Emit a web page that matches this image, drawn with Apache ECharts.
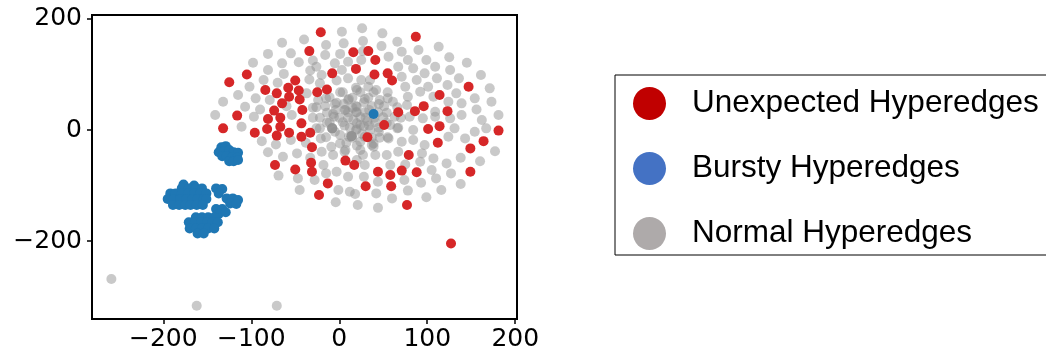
<!DOCTYPE html>
<html>
<head>
<meta charset="utf-8">
<script src="https://cdn.jsdelivr.net/npm/echarts@6/dist/echarts.min.js"></script>
<style>
  html, body { margin: 0; padding: 0; background: #fff; }
  #chart { width: 1046px; height: 354px; }
</style>
</head>
<body>
<div id="chart"></div>
<script>
// legend names
const seriesNames = ['Unexpected Hyperedges', 'Bursty Hyperedges', 'Normal Hyperedges']

// tick labels
const xTicks = [-200, -100, 0, 100, 200]
const yTicks = [-200, 0, 200]

// grey points
const normalPoints = [
  [3, 177], [-40, 163], [-65, 157], [-15, 153], [5, 156], [-81, 137], [-55, 138], [-30, 125], [-16, 135], [1, 137],
  [-98, 121], [-65, 120], [-46, 122], [-26, 114], [-5, 120], [10, 123], [-81, 108], [-63, 101], [-33, 107], [-20, 99],
  [3, 108], [-102, 78], [-86, 90], [-70, 85], [-34, 91], [-22, 84], [-3, 89], [10, 93], [-115, 63], [-95, 57],
  [-79, 54], [-37, 66], [-132, 51], [-107, 42], [-90, 37], [-60, 43], [-141, 27], [-97, 24], [-54, 27],
  [-24, 54], [-11, 59], [4, 68], [-30, 40], [-16, 43], [-3, 49], [10, 54], [-22, 22], [-7, 29], [7, 36], [19, 43],
  [-111, 6], [-88, -20], [-81, -40], [-72, -26], [-64, -48], [-69, -82], [-55, -18], [-48, -42], [-47, -87], [-45, -108],
  [-22, 3], [-21, -15], [-20, -39], [-18, -63], [-28, -90], [-6, 24], [-9, -30], [-7, -45], [-3, -75], [-1, -108],
  [-4, -130], [7, -36], [10, -84], [12, -111], [-33, -50], [-38, -23], [-15, -78],
  [18, -115], [21, -135], [28, -84], [42, -114], [44, -140], [44, -93], [60, -123], [74, -90], [78, -109], [93, -95],
  [99, -121], [110, -87], [116, -108], [127, -78], [138, -97], [105, -72],
  [63, 24], [80, 24], [95, 21], [109, 24], [126, 21], [139, 27], [162, 18], [181, 27], [67, 4], [84, 0],
  [131, 3], [154, -3], [24, -21], [39, -30], [56, -15], [71, -21], [84, -18], [97, -27], [124, -12], [143, -15],
  [177, -38], [27, -45], [41, -45], [54, -45], [67, -39], [94, -42], [107, -51], [122, -60], [138, -50], [160, -56],
  [29, -63], [58, -63], [75, -62], [92, -57], [167, 3],
  [26, 183], [49, 174], [66, 159], [48, 151], [25, 126], [56, 132], [71, 141], [78, 126], [90, 144], [99, 126],
  [113, 150], [125, 131], [145, 121], [161, 99], [109, 114], [126, 108], [136, 93], [171, 75], [67, 114], [84, 111],
  [97, 102], [111, 93], [123, 81], [71, 96], [88, 90], [101, 78], [133, 66], [154, 57], [75, 78], [92, 69],
  [107, 60], [124, 51], [139, 48], [156, 37], [173, 51], [78, 60], [33, 78], [25, 90], [46, 54], [61, 51],
  [77, 45], [109, 33], [27, 160], [27, 142],
  [24, 23], [19, 32], [29, 32], [16, 18], [32, 16], [24, 9], [12, 4], [35, 0], [26, -7], [15, -14],
  [41, 14], [37, 43], [28, 50], [15, 58], [51, 43], [50, 23], [46, -14], [37, -27], [24, -36], [8, -23],
  [1, -9], [4, 14], [15, 40], [58, 9], [55, 68], [42, 72], [24, 68], [20, -54],
  [10, 32], [5, 47], [33, 58], [44, 32], [45, 4], [37, -14], [-11, 14], [-4, 36], [19, 76], [35, 90], [28, 7], [19, 0],
  // dense core
  [30, 22], [20, 32], [10, 22], [20, 12],
  [40, 22], [34, 36], [20, 42], [6, 36], [0, 22], [6, 8], [20, 2], [34, 8],
  [54, 31], [45, 47], [29, 56], [11, 56], [-5, 47], [-14, 31], [-14, 13], [-5, -3], [11, -12], [29, -12], [45, -3], [54, 13],
  [70, 22], [66, 41], [55, 57], [39, 68], [20, 72], [1, 68], [-15, 57], [-26, 41], [-30, 22], [-26, 3], [-15, -13], [1, -24],
  [20, -28], [39, -24], [55, -13], [66, 3],
  [-8, 3], [-8, 3], [-8, 3], [-8, 3], [14, -11], [14, -11], [14, -11], [14, -11], [6, -39],
  [-259, -268], [-162, -316], [-71, -316]
]

// red points
const unexpectedPoints = [
  [-21, 176], [87, 168], [-34, 142], [16, 140], [33, 142], [41, 126], [-105, 100], [-125, 86], [-8, 102], [19, 110],
  [40, 100], [55, 102], [60, 89], [-50, 89], [-58, 76], [-46, 71], [-84, 72], [-71, 66], [-57, 60], [-45, 55],
  [-25, 68], [-14, 73], [147, 78], [114, 63], [-65, 48], [-74, 35], [-42, 36], [-116, 26], [67, 32], [86, 34],
  [96, 43], [123, 34], [-81, 20], [-67, 22], [-67, 6], [-43, 12], [-132, 3], [-96, -5], [-82, 2], [-71, -10],
  [-57, -5], [-43, -12], [-33, -5], [51, 9], [32, -13], [101, 2], [114, 7], [181, -1], [164, -20], [112, -23],
  [149, -33], [-31, -31], [79, -45], [7, -55], [17, -63], [-73, -63], [-50, -71], [-32, -59], [-31, -75], [44, -75],
  [58, -81], [71, -73], [88, -76], [149, -75], [-13, -96], [30, -101], [59, -101], [-23, -117], [77, -135], [127, -204]
]

// blue points
const burstyPoints = [
  [-134, -31], [-129, -29], [-137, -40], [-131, -38], [-125, -36], [-120, -40], [-115, -41],
  [-133, -47], [-128, -47], [-122, -49], [-116, -50], [-125, -56], [-120, -56], [-115, -54],
  [-177, -98], [-165, -100],
  [-179, -105], [-171, -105], [-163, -105], [-156, -105],
  [-192, -114], [-186, -114], [-179, -114], [-172, -114], [-165, -114], [-158, -114], [-151, -114],
  [-195, -124], [-188, -124], [-181, -124], [-174, -124], [-167, -124], [-161, -124], [-154, -124], [-151, -124],
  [-189, -135], [-182, -135], [-175, -135], [-169, -135], [-162, -135], [-155, -135],
  [-140, -105], [-133, -106], [-137, -114], [-128, -123], [-121, -123], [-115, -126], [-124, -132], [-117, -133],
  [-140, -142], [-133, -142], [-137, -151], [-129, -148],
  [-163, -157], [-156, -157], [-149, -157], [-142, -157],
  [-171, -166], [-164, -166], [-157, -166], [-150, -166], [-144, -166], [-138, -166],
  [-170, -177], [-163, -177], [-156, -177], [-149, -177], [-142, -177],
  [-161, -186], [-154, -186],
  [39, 29]
]

const fmtMinus = (v) => String(v).replace('-', '\u2212')

const chart = echarts.init(document.getElementById('chart'))

chart.setOption({
  animation: false,
  grid: {
    left: 92,
    right: 529,
    top: 15,
    bottom: 35,
    show: true,
    borderColor: '#000',
    borderWidth: 2,
    backgroundColor: 'transparent',
  },
  xAxis: {
    type: 'value',
    min: -281,
    max: 202,
    splitLine: { show: false },
    axisLine: { show: false, onZero: false },
    axisTick: { show: true, length: 5, customValues: xTicks, lineStyle: { color: '#000', width: 1.5 } },
    axisLabel: {
      customValues: xTicks,
      margin: 8,
      fontFamily: 'DejaVu Sans',
      fontSize: 25,
      color: '#000',
      formatter: fmtMinus,
    },
  },
  yAxis: {
    type: 'value',
    min: -340,
    max: 207,
    splitLine: { show: false },
    axisLine: { show: false, onZero: false },
    axisTick: { show: true, length: 5, customValues: yTicks, lineStyle: { color: '#000', width: 1.5 } },
    axisLabel: {
      customValues: yTicks,
      margin: 10,
      fontFamily: 'DejaVu Sans',
      fontSize: 25,
      color: '#000',
      formatter: fmtMinus,
    },
  },
  legend: {
    orient: 'vertical',
    left: 615,
    top: 75,
    padding: [12, 120, 5, 18],
    itemWidth: 33,
    itemHeight: 33,
    itemGap: 32,
    icon: 'circle',
    borderColor: '#000',
    borderWidth: 1,
    selectedMode: false,
    textStyle: {
      fontFamily: 'Liberation Sans',
      fontSize: 31.5,
      color: '#000',
      padding: [0, 0, 0, 21],
    },
    data: [
      { name: seriesNames[0], itemStyle: { color: '#C00000', opacity: 1 } },
      { name: seriesNames[1], itemStyle: { color: '#4472C4', opacity: 1 } },
      { name: seriesNames[2], itemStyle: { color: '#AEAAAA', opacity: 1 } },
    ],
  },
  series: [
    {
      name: seriesNames[2],
      type: 'scatter',
      symbolSize: 10,
      itemStyle: { color: '#909090', opacity: 0.49 },
      data: normalPoints,
      z: 2,
    },
    {
      name: seriesNames[0],
      type: 'scatter',
      symbolSize: 10,
      itemStyle: { color: '#d62728', opacity: 1 },
      data: unexpectedPoints,
      z: 3,
    },
    {
      name: seriesNames[1],
      type: 'scatter',
      symbolSize: 10,
      itemStyle: { color: '#1f77b4', opacity: 1 },
      data: burstyPoints,
      z: 4,
    },
  ],
})
</script>
</body>
</html>
